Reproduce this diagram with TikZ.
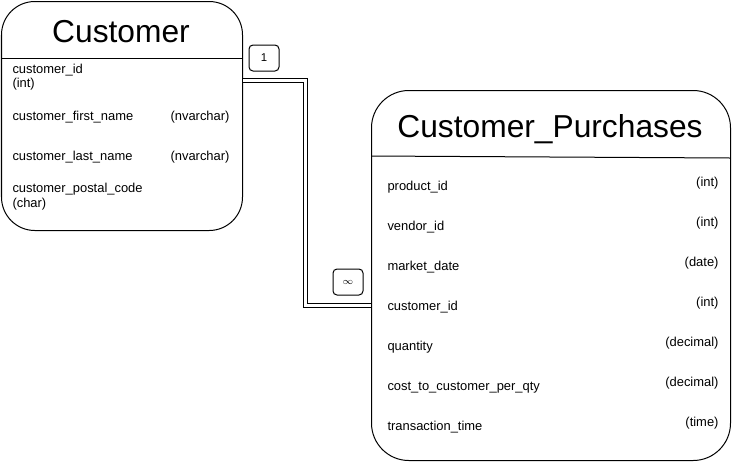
\documentclass[tikz,border=0pt]{standalone}
\usepackage{fontspec}
\setmainfont{Liberation Sans}
\begin{document}
\begin{tikzpicture}[x=0.75pt,y=-0.75pt, line width=0.75pt,
 tbl/.style={draw, rounded corners=25pt, inner sep=0, anchor=north west},
 ttl/.style={font=\fontsize{23.8}{28}\selectfont, inner sep=0, anchor=base},
 fld/.style={font=\fontsize{9.7}{11}\selectfont, inner sep=0, anchor=base west},
 typ/.style={font=\fontsize{9.7}{11}\selectfont, inner sep=0, anchor=base east},
 card/.style={draw, rounded corners=3pt, minimum width=22.5pt, minimum height=19.5pt, inner sep=0, font=\fontsize{8.5}{10}\selectfont},
 rel/.style={double, double distance=2.25pt, line width=0.75pt}]
\useasboundingbox (0,0) rectangle (732,461);

% Customer table
\node[tbl, minimum width=180.75pt, minimum height=171.75pt] (cust) at (1,1) {};
\node[ttl] (custt) at (121,42) {Customer};
\draw (1,58) -- (242,58);
\node[fld] (c1) at (12,73) {customer\_id};
\node[fld] (c1t) at (12,87) {(int)};
\node[fld] (c2) at (12,120) {customer\_first\_name};
\node[typ] (c2t) at (230,120) {(nvarchar)};
\node[fld] (c3) at (12,160) {customer\_last\_name};
\node[typ] (c3t) at (230,160) {(nvarchar)};
\node[fld] (c4) at (12,192) {customer\_postal\_code};
\node[fld] (c4t) at (12,207) {(char)};

% Customer_Purchases table
\node[tbl, minimum width=269.25pt, minimum height=277.5pt, rounded corners=28pt] (cp) at (371,90) {};
\node[ttl] (cpt) at (550,137) {Customer\_Purchases};
\draw (371,156) -- (730,158);
\node[fld] (p1) at (387,190) {product\_id};
\node[typ] (p1t) at (719,186) {(int)};
\node[fld] (p2) at (387,230) {vendor\_id};
\node[typ] (p2t) at (719,226) {(int)};
\node[fld] (p3) at (387,270) {market\_date};
\node[typ] (p3t) at (719,266) {(date)};
\node[fld] (p4) at (387,310) {customer\_id};
\node[typ] (p4t) at (719,306) {(int)};
\node[fld] (p5) at (387,350) {quantity};
\node[typ] (p5t) at (719,346) {(decimal)};
\node[fld] (p6) at (387,390) {cost\_to\_customer\_per\_qty};
\node[typ] (p6t) at (719,386) {(decimal)};
\node[fld] (p7) at (387,430) {transaction\_time};
\node[typ] (p7t) at (719,426) {(time)};

% relationship
\coordinate (ra) at (243,80.5);
\coordinate (rb) at (371,305);
\draw[rel] (ra) -- (305,80.5) |- (rb);
\node[card] (one) at (264,58) {1};
\node[card] (many) at (348,282) {\scriptsize$\infty$};
\end{tikzpicture}
\end{document}
